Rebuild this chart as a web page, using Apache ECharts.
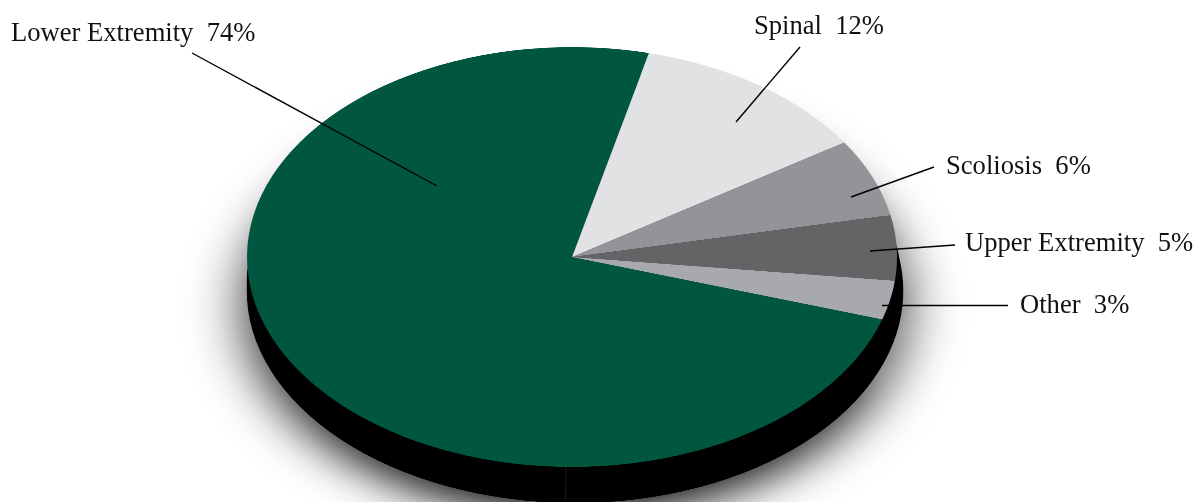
<!DOCTYPE html>
<html>
<head>
<meta charset="utf-8">
<style>
html,body{margin:0;padding:0;background:#fff;width:1201px;height:502px;overflow:hidden}
#stage{position:relative;width:1201px;height:502px;overflow:hidden}
#pie{position:absolute;left:0;top:0;width:1201px;height:900px;transform-origin:0 0}
#notes{position:absolute;left:0;top:0;width:1201px;height:502px}
</style>
<script src="https://cdn.jsdelivr.net/npm/echarts@6/dist/echarts.min.js"></script>
</head>
<body>
<div id="stage"><div id="pie"></div><div id="notes"></div></div>
<script>
const categories = ['Lower Extremity', 'Spinal', 'Scoliosis', 'Upper Extremity', 'Other'];
const shares = [74, 12, 6, 5, 3];
const sliceColors = ['#00563f', '#e1e2e4', '#929497', '#636466', '#a7a9ac'];

// The reference pie is tilted: a circle flattened vertically.
const tilt = 0.646;
document.getElementById('pie').style.transform = 'scaleY(' + tilt + ')';

const sliceData = categories.map((name, i) => ({ name, value: shares[i], itemStyle: { color: sliceColors[i] } }));
const baseData = categories.map((name, i) => ({ name, value: shares[i] }));
const hidden = { label: { show: false }, labelLine: { show: false } };

const pieChart = echarts.init(document.getElementById('pie'), null, { devicePixelRatio: 2 });
pieChart.setOption({
  animation: false,
  series: [
    Object.assign({
      type: 'pie', silent: true, clockwise: true, startAngle: -17.3,
      center: [575, 291 / tilt], radius: [0, 326], data: baseData,
      itemStyle: { color: '#000', shadowBlur: 60, shadowOffsetY: 25, shadowColor: 'rgba(0,0,0,0.9)' }
    }, hidden),
    Object.assign({
      type: 'pie', silent: true, clockwise: true, startAngle: -17.3,
      center: [575, 291 / tilt], radius: [0, 328], data: baseData,
      itemStyle: { color: '#000', borderWidth: 0.5, borderColor: '#000' }
    }, hidden),
    Object.assign({
      type: 'pie', silent: true, clockwise: true, startAngle: -17.3,
      center: [574, 281 / tilt], radius: [0, 327], data: baseData,
      itemStyle: { color: '#000', borderWidth: 0.5, borderColor: '#000' }
    }, hidden),
    Object.assign({
      type: 'pie', silent: true, clockwise: true, startAngle: -17.3,
      center: [572, 257 / tilt], radius: [0, 325], data: sliceData,
      itemStyle: { borderWidth: 0 }
    }, hidden)
  ]
});

// Leader lines and label anchors (in page pixels)
const labelAnchors = [[11, 32], [754, 25], [946, 165], [965, 242], [1020, 304]];
const leaders = [
  [192, 53, 437, 186],
  [800, 47, 736, 122],
  [934, 167, 851, 197],
  [955, 245, 870, 251],
  [1008, 305.5, 882, 305.5]
];

const notes = echarts.init(document.getElementById('notes'), null, { renderer: 'svg' });
const elements = [];
leaders.forEach(l => elements.push({
  type: 'line', shape: { x1: l[0], y1: l[1], x2: l[2], y2: l[3] },
  style: { stroke: '#000', lineWidth: 1.4 }, silent: true
}));
categories.forEach((name, i) => elements.push({
  type: 'text', x: labelAnchors[i][0], y: labelAnchors[i][1],
  style: { text: name + '  ' + shares[i] + '%', fill: '#111', font: '26.6px "Liberation Serif"', textAlign: 'left', textVerticalAlign: 'middle' },
  silent: true
}));
// hairline seam in the base of the pie
elements.push({ type: 'line', shape: { x1: 566, y1: 467, x2: 565.5, y2: 500 }, style: { stroke: '#2a2a2a', lineWidth: 0.6 }, silent: true });
notes.setOption({ animation: false, graphic: { elements } });
</script>
</body>
</html>
